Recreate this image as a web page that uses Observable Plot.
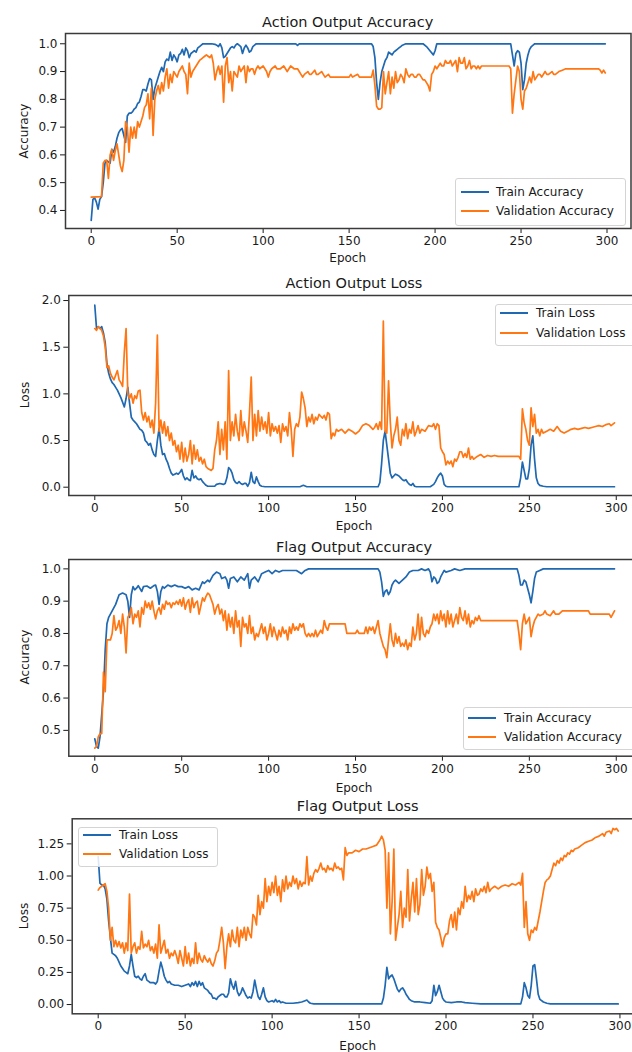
<!DOCTYPE html>
<html><head><meta charset="utf-8">
<script src="https://cdn.jsdelivr.net/npm/d3@7"></script>
<script src="https://cdn.jsdelivr.net/npm/@observablehq/plot@0.6"></script>
<style>
body{margin:0;background:#fff;}
#root{position:relative;width:632px;height:1052px;overflow:hidden;background:#fff;font-family:"DejaVu Sans",sans-serif;color:#1a1a1a;}
.t{position:absolute;white-space:nowrap;transform:translate(-50%,-50%);line-height:1;}
.title{font-size:14.5px;}
.lab{font-size:12px;}
.ylab{transform:translate(-50%,-50%) rotate(-90deg);}
.leg{position:absolute;border:1px solid #d4d4d4;border-radius:3px;background:rgba(255,255,255,0.85);box-sizing:border-box;}
.sw{position:absolute;height:2px;}
.lt{position:absolute;font-size:12px;white-space:nowrap;transform:translateY(-50%);line-height:1;}
</style></head>
<body><div id="root"></div>
<script>
const BLUE = "#1f68b2";
const ORANGE = "#ff7612";
const xTicks = [0, 50, 100, 150, 200, 250, 300];
const accTicks1 = [0.4, 0.5, 0.6, 0.7, 0.8, 0.9, 1.0];
const lossTicks1 = [0, 0.5, 1.0, 1.5, 2.0];
const accTicks2 = [0.5, 0.6, 0.7, 0.8, 0.9, 1.0];
const lossTicks2 = [0, 0.25, 0.5, 0.75, 1.0, 1.25];

// [epoch, value]
const actionTrainAcc = [[0,0.364],[1,0.44],[2,0.445],[3,0.43],[4,0.405],[5,0.44],[6,0.45],[7,0.50],[8,0.57],[9,0.58],[10,0.575],[11,0.57],[12,0.62],[13,0.61],[14,0.63],[15,0.66],[16,0.68],[17,0.69],[18,0.695],[19,0.67],[20,0.645],[21,0.74],[22,0.75],[23,0.75],[24,0.755],[25,0.765],[26,0.77],[27,0.785],[28,0.79],[29,0.81],[30,0.835],[31,0.835],[32,0.83],[33,0.855],[34,0.875],[35,0.87],[36,0.80],[37,0.84],[38,0.86],[39,0.88],[40,0.90],[41,0.915],[42,0.90],[43,0.935],[44,0.945],[45,0.94],[46,0.97],[47,0.94],[48,0.96],[49,0.95],[50,0.935],[51,0.96],[52,0.965],[53,0.98],[54,0.96],[55,0.985],[56,0.975],[57,0.95],[58,0.965],[59,0.97],[60,0.975],[61,0.97],[62,0.985],[63,0.99],[64,0.995],[65,1.0],[70,1.0],[72,0.998],[73,0.995],[74,0.99],[75,1.0],[76,0.985],[77,0.95],[78,0.955],[79,0.965],[80,0.975],[81,0.985],[82,0.99],[83,0.985],[84,0.995],[85,1.0],[86,0.995],[87,0.99],[88,0.965],[89,0.985],[90,0.995],[91,0.985],[92,0.97],[93,0.975],[94,0.99],[95,0.995],[96,1.0],[119,1.0],[120,0.994],[121,1.0],[163,1.0],[164,0.99],[165,0.95],[166,0.86],[167,0.80],[168,0.86],[169,0.90],[170,0.92],[171,0.94],[172,0.95],[173,0.97],[174,0.965],[175,0.96],[176,0.97],[177,0.975],[178,0.98],[179,0.985],[180,0.99],[181,0.995],[183,1.0],[193,1.0],[195,0.99],[197,0.975],[199,0.96],[200,0.975],[201,1.0],[244,1.0],[245,0.96],[246,0.92],[247,0.965],[248,0.975],[249,0.97],[250,0.93],[251,0.835],[252,0.87],[253,0.93],[254,0.96],[255,0.98],[256,0.99],[257,0.995],[258,1.0],[299,1.0]];

const actionValAcc = [[0,0.448],[6,0.45],[7,0.57],[8,0.58],[9,0.58],[10,0.515],[11,0.60],[12,0.62],[13,0.58],[14,0.615],[15,0.64],[16,0.60],[17,0.56],[18,0.54],[19,0.58],[20,0.72],[21,0.70],[22,0.61],[23,0.70],[24,0.66],[25,0.70],[26,0.66],[27,0.72],[28,0.70],[29,0.72],[30,0.74],[31,0.77],[32,0.78],[33,0.82],[34,0.73],[35,0.84],[36,0.67],[37,0.80],[38,0.83],[39,0.85],[40,0.82],[41,0.86],[42,0.83],[43,0.88],[44,0.91],[45,0.84],[46,0.89],[47,0.86],[48,0.90],[49,0.89],[50,0.88],[51,0.90],[52,0.91],[53,0.92],[54,0.90],[55,0.89],[56,0.82],[57,0.93],[58,0.88],[59,0.90],[60,0.91],[61,0.92],[62,0.93],[63,0.94],[64,0.945],[65,0.95],[66,0.955],[67,0.96],[68,0.955],[69,0.95],[70,0.96],[71,0.93],[72,0.87],[73,0.90],[74,0.92],[75,0.89],[76,0.92],[77,0.79],[78,0.92],[79,0.95],[80,0.86],[81,0.90],[82,0.83],[83,0.90],[84,0.89],[85,0.88],[86,0.92],[87,0.90],[88,0.91],[89,0.92],[90,0.86],[91,0.92],[92,0.90],[93,0.91],[94,0.91],[95,0.89],[96,0.91],[97,0.92],[98,0.91],[100,0.92],[101,0.91],[102,0.90],[103,0.88],[104,0.90],[105,0.91],[107,0.92],[108,0.91],[110,0.91],[112,0.92],[113,0.91],[114,0.90],[116,0.92],[118,0.91],[120,0.91],[121,0.90],[122,0.89],[123,0.88],[124,0.89],[126,0.90],[127,0.89],[128,0.89],[130,0.905],[131,0.89],[132,0.89],[134,0.90],[135,0.89],[136,0.88],[138,0.89],[139,0.88],[150,0.88],[151,0.89],[152,0.88],[155,0.89],[156,0.88],[163,0.88],[164,0.905],[165,0.85],[166,0.775],[167,0.765],[168,0.765],[169,0.77],[170,0.90],[171,0.82],[172,0.86],[173,0.90],[174,0.82],[175,0.88],[176,0.84],[177,0.90],[178,0.86],[179,0.87],[180,0.89],[181,0.88],[182,0.86],[183,0.91],[184,0.89],[185,0.88],[186,0.89],[187,0.89],[188,0.88],[189,0.88],[190,0.89],[191,0.89],[192,0.88],[193,0.87],[194,0.87],[195,0.86],[196,0.85],[197,0.83],[198,0.89],[199,0.90],[200,0.92],[201,0.91],[202,0.92],[203,0.93],[204,0.92],[205,0.92],[206,0.94],[207,0.93],[208,0.93],[209,0.94],[210,0.92],[211,0.93],[212,0.94],[213,0.90],[214,0.95],[215,0.93],[216,0.93],[217,0.95],[218,0.91],[219,0.92],[220,0.94],[221,0.91],[222,0.92],[223,0.92],[224,0.91],[225,0.92],[226,0.91],[227,0.92],[243,0.92],[244,0.91],[245,0.75],[246,0.82],[247,0.87],[248,0.92],[249,0.90],[250,0.80],[251,0.765],[252,0.83],[253,0.84],[254,0.86],[255,0.88],[256,0.86],[257,0.90],[258,0.87],[259,0.88],[260,0.89],[261,0.89],[262,0.88],[264,0.90],[265,0.89],[266,0.89],[268,0.90],[269,0.89],[270,0.89],[272,0.90],[274,0.905],[276,0.91],[295,0.91],[296,0.905],[297,0.895],[298,0.905],[299,0.895]];

const actionTrainLoss = [[0,1.95],[1,1.70],[2,1.72],[3,1.70],[4,1.72],[5,1.65],[6,1.55],[7,1.32],[8,1.22],[9,1.16],[10,1.12],[11,1.10],[12,1.07],[13,1.04],[14,1.0],[15,0.96],[16,0.91],[17,0.86],[18,0.95],[19,1.07],[20,0.90],[21,0.75],[22,0.72],[23,0.70],[24,0.68],[25,0.65],[26,0.62],[27,0.61],[28,0.58],[29,0.50],[30,0.48],[31,0.45],[32,0.47],[33,0.40],[34,0.35],[35,0.33],[36,0.50],[37,0.63],[38,0.45],[39,0.35],[40,0.36],[41,0.30],[42,0.26],[43,0.20],[44,0.15],[45,0.13],[46,0.14],[47,0.15],[48,0.14],[49,0.16],[50,0.19],[51,0.12],[52,0.08],[53,0.10],[54,0.08],[55,0.07],[56,0.18],[57,0.10],[58,0.12],[59,0.09],[60,0.08],[61,0.09],[62,0.06],[63,0.04],[64,0.02],[65,0.01],[69,0.01],[70,0.03],[72,0.04],[74,0.03],[75,0.04],[76,0.10],[77,0.21],[78,0.19],[79,0.15],[80,0.08],[81,0.05],[82,0.04],[83,0.06],[84,0.04],[85,0.03],[86,0.04],[87,0.04],[88,0.01],[89,0.05],[90,0.16],[91,0.06],[92,0.04],[93,0.11],[94,0.06],[95,0.02],[96,0.01],[98,0.005],[118,0.005],[120,0.02],[122,0.005],[163,0.005],[164,0.05],[165,0.25],[166,0.50],[167,0.60],[168,0.45],[169,0.30],[170,0.15],[171,0.10],[172,0.12],[173,0.14],[174,0.13],[175,0.12],[176,0.10],[177,0.08],[178,0.07],[179,0.08],[180,0.05],[181,0.03],[182,0.02],[183,0.04],[184,0.01],[185,0.005],[193,0.005],[195,0.03],[196,0.06],[197,0.10],[198,0.13],[199,0.15],[200,0.12],[201,0.03],[202,0.01],[203,0.005],[244,0.005],[245,0.10],[246,0.27],[247,0.18],[248,0.09],[249,0.09],[250,0.20],[251,0.45],[252,0.55],[253,0.30],[254,0.10],[255,0.04],[256,0.02],[258,0.01],[260,0.005],[299,0.005]];

const actionValLoss = [[0,1.70],[1,1.68],[2,1.72],[3,1.70],[4,1.68],[5,1.62],[6,1.50],[7,1.28],[8,1.30],[9,1.22],[10,1.18],[11,1.15],[12,1.20],[13,1.25],[14,1.15],[15,1.12],[16,1.08],[17,1.45],[18,1.70],[19,1.0],[20,0.95],[21,1.0],[22,0.90],[23,0.98],[24,0.95],[25,1.03],[26,1.04],[27,0.80],[28,0.72],[29,0.80],[30,0.70],[31,0.76],[32,0.64],[33,0.72],[34,0.58],[35,0.90],[36,1.63],[37,0.60],[38,0.72],[39,0.58],[40,0.70],[41,0.55],[42,0.65],[43,0.50],[44,0.58],[45,0.45],[46,0.50],[47,0.38],[48,0.45],[49,0.30],[50,0.48],[51,0.27],[52,0.42],[53,0.28],[54,0.35],[55,0.50],[56,0.25],[57,0.45],[58,0.30],[59,0.40],[60,0.28],[61,0.32],[62,0.25],[63,0.30],[64,0.22],[65,0.20],[66,0.19],[67,0.18],[68,0.20],[69,0.40],[70,0.50],[71,0.70],[72,0.35],[73,0.62],[74,0.40],[75,0.70],[76,0.30],[77,1.25],[78,0.50],[79,0.70],[80,0.55],[81,0.78],[82,0.60],[83,0.50],[84,0.82],[85,0.55],[86,0.70],[87,0.60],[88,0.48],[89,0.80],[90,1.18],[91,0.50],[92,0.78],[93,0.55],[94,0.82],[95,0.60],[96,0.75],[97,0.62],[98,0.70],[99,0.58],[100,0.80],[101,0.55],[102,0.68],[103,0.60],[104,0.65],[105,0.58],[106,0.66],[107,0.48],[108,0.68],[109,0.60],[110,0.65],[111,0.55],[112,0.80],[113,0.62],[114,0.33],[115,0.62],[116,0.68],[117,0.65],[118,0.75],[119,1.02],[120,0.95],[121,0.85],[122,0.65],[123,0.75],[124,0.70],[125,0.78],[126,0.68],[127,0.75],[128,0.72],[129,0.78],[130,0.76],[131,0.74],[132,0.77],[133,0.72],[134,0.80],[135,0.78],[136,0.52],[137,0.58],[138,0.55],[139,0.62],[140,0.60],[142,0.62],[144,0.58],[146,0.62],[148,0.60],[150,0.57],[152,0.60],[154,0.66],[156,0.68],[158,0.66],[160,0.62],[161,0.64],[162,0.68],[163,0.62],[164,0.70],[165,0.62],[166,1.78],[167,0.60],[168,0.58],[169,1.14],[170,0.70],[171,0.42],[172,0.55],[173,0.62],[174,0.75],[175,0.50],[176,0.45],[177,0.62],[178,0.55],[179,0.68],[180,0.52],[181,0.62],[182,0.58],[183,0.70],[184,0.55],[185,0.60],[186,0.66],[187,0.58],[188,0.62],[190,0.60],[192,0.66],[194,0.65],[195,0.68],[196,0.62],[197,0.68],[198,0.66],[199,0.42],[200,0.38],[201,0.35],[202,0.24],[203,0.28],[204,0.25],[205,0.28],[206,0.22],[207,0.30],[208,0.28],[209,0.32],[210,0.38],[211,0.38],[212,0.32],[213,0.36],[214,0.32],[215,0.42],[216,0.30],[217,0.33],[218,0.30],[220,0.33],[222,0.35],[224,0.32],[226,0.34],[228,0.33],[230,0.34],[232,0.33],[244,0.33],[245,0.30],[246,0.84],[247,0.70],[248,0.62],[249,0.50],[250,0.45],[251,0.85],[252,0.65],[253,0.78],[254,0.58],[255,0.62],[256,0.55],[257,0.62],[258,0.58],[260,0.60],[262,0.62],[264,0.60],[266,0.65],[268,0.60],[270,0.58],[272,0.60],[274,0.62],[276,0.63],[278,0.62],[280,0.63],[282,0.64],[284,0.63],[286,0.64],[288,0.65],[290,0.66],[292,0.65],[294,0.67],[296,0.68],[297,0.66],[299,0.69]];

const flagTrainAcc = [[0,0.474],[1,0.45],[2,0.445],[3,0.48],[4,0.55],[5,0.62],[6,0.75],[7,0.83],[8,0.85],[9,0.86],[10,0.87],[12,0.89],[14,0.92],[16,0.925],[18,0.92],[19,0.90],[20,0.85],[21,0.92],[22,0.945],[23,0.935],[24,0.94],[25,0.948],[27,0.93],[28,0.945],[30,0.947],[32,0.94],[34,0.948],[35,0.95],[36,0.93],[37,0.89],[38,0.93],[39,0.945],[40,0.94],[42,0.95],[44,0.945],[46,0.95],[48,0.945],[50,0.945],[52,0.94],[54,0.945],[56,0.935],[58,0.94],[60,0.935],[62,0.96],[63,0.955],[65,0.965],[66,0.96],[68,0.98],[70,0.99],[72,0.985],[73,0.97],[75,0.975],[76,0.965],[77,0.94],[78,0.97],[80,0.975],[82,0.96],[84,0.975],[86,0.965],[88,0.985],[89,0.94],[90,0.965],[92,0.975],[94,0.96],[96,0.985],[98,0.99],[100,0.995],[102,0.985],[104,0.995],[106,0.99],[108,0.995],[116,0.995],[119,0.985],[121,0.995],[123,1.0],[163,1.0],[164,0.99],[165,0.96],[166,0.915],[167,0.93],[168,0.935],[169,0.92],[170,0.93],[171,0.95],[172,0.96],[173,0.965],[175,0.955],[177,0.965],[179,0.975],[181,0.99],[183,0.995],[186,0.995],[188,1.0],[190,0.995],[192,1.0],[193,0.99],[194,0.96],[195,0.975],[196,0.97],[197,0.955],[198,0.96],[199,0.975],[200,0.985],[201,0.995],[202,0.99],[205,0.995],[207,1.0],[210,0.995],[213,1.0],[243,1.0],[244,0.98],[245,0.95],[246,0.95],[247,0.965],[248,0.96],[249,0.94],[250,0.92],[251,0.895],[252,0.93],[253,0.97],[254,0.99],[256,0.995],[258,1.0],[299,1.0]];

const flagValAcc = [[0,0.445],[1,0.45],[2,0.48],[3,0.49],[4,0.49],[5,0.68],[6,0.62],[7,0.78],[8,0.78],[9,0.78],[10,0.80],[11,0.855],[12,0.81],[13,0.82],[14,0.84],[15,0.80],[16,0.86],[17,0.82],[18,0.74],[19,0.85],[20,0.86],[21,0.88],[22,0.83],[23,0.86],[24,0.85],[25,0.87],[26,0.82],[27,0.88],[28,0.86],[29,0.90],[30,0.88],[31,0.895],[32,0.875],[33,0.90],[34,0.87],[35,0.845],[36,0.87],[37,0.88],[38,0.86],[39,0.89],[40,0.875],[41,0.90],[42,0.89],[43,0.895],[44,0.88],[45,0.895],[46,0.89],[47,0.90],[48,0.89],[49,0.905],[50,0.885],[51,0.91],[52,0.875],[53,0.895],[54,0.905],[55,0.865],[56,0.91],[57,0.88],[58,0.895],[59,0.90],[60,0.86],[61,0.885],[62,0.91],[63,0.90],[64,0.915],[65,0.925],[66,0.92],[67,0.905],[68,0.89],[69,0.86],[70,0.88],[71,0.89],[72,0.86],[73,0.875],[74,0.84],[75,0.87],[76,0.81],[77,0.86],[78,0.82],[79,0.85],[80,0.80],[81,0.87],[82,0.82],[83,0.84],[84,0.76],[85,0.85],[86,0.82],[87,0.83],[88,0.80],[89,0.855],[90,0.80],[91,0.82],[92,0.78],[93,0.80],[94,0.79],[95,0.81],[96,0.83],[97,0.80],[98,0.82],[99,0.78],[100,0.80],[101,0.83],[102,0.79],[103,0.82],[104,0.80],[105,0.78],[106,0.81],[107,0.79],[108,0.82],[109,0.80],[110,0.81],[111,0.78],[112,0.82],[113,0.80],[114,0.83],[115,0.81],[116,0.82],[117,0.81],[118,0.83],[119,0.82],[120,0.83],[121,0.80],[122,0.79],[123,0.80],[124,0.79],[125,0.80],[126,0.79],[127,0.81],[128,0.79],[129,0.80],[130,0.81],[131,0.80],[132,0.84],[133,0.82],[134,0.81],[135,0.83],[144,0.83],[145,0.80],[150,0.80],[151,0.81],[152,0.80],[155,0.80],[156,0.82],[157,0.80],[158,0.82],[159,0.81],[160,0.82],[161,0.80],[162,0.82],[163,0.84],[164,0.80],[165,0.78],[166,0.76],[167,0.75],[168,0.725],[169,0.78],[170,0.83],[171,0.78],[172,0.76],[173,0.80],[174,0.77],[175,0.79],[176,0.76],[177,0.77],[178,0.76],[179,0.78],[180,0.75],[181,0.77],[182,0.76],[183,0.82],[184,0.78],[185,0.80],[186,0.86],[187,0.78],[188,0.85],[189,0.80],[190,0.79],[191,0.81],[192,0.80],[193,0.82],[194,0.83],[195,0.86],[196,0.84],[197,0.86],[198,0.83],[199,0.87],[200,0.84],[201,0.86],[202,0.82],[203,0.87],[204,0.83],[205,0.86],[206,0.82],[207,0.84],[208,0.86],[209,0.83],[210,0.88],[211,0.85],[212,0.84],[213,0.87],[214,0.83],[215,0.86],[216,0.82],[217,0.84],[218,0.83],[219,0.85],[220,0.84],[221,0.855],[222,0.84],[243,0.84],[244,0.80],[245,0.75],[246,0.83],[247,0.86],[248,0.83],[249,0.84],[250,0.85],[251,0.79],[252,0.82],[253,0.84],[254,0.85],[255,0.86],[256,0.855],[258,0.86],[259,0.87],[260,0.86],[262,0.855],[264,0.87],[265,0.86],[267,0.86],[269,0.87],[284,0.87],[285,0.86],[296,0.86],[297,0.85],[298,0.86],[299,0.87]];

const flagTrainLoss = [[0,1.15],[1,0.945],[2,0.93],[3,0.93],[4,0.90],[5,0.82],[6,0.65],[7,0.52],[8,0.40],[9,0.39],[10,0.38],[11,0.36],[12,0.33],[13,0.30],[14,0.28],[15,0.26],[16,0.25],[17,0.24],[18,0.30],[19,0.39],[20,0.30],[21,0.22],[22,0.21],[23,0.22],[24,0.20],[25,0.19],[26,0.22],[27,0.24],[28,0.19],[29,0.18],[30,0.17],[32,0.17],[33,0.16],[34,0.18],[35,0.26],[36,0.33],[37,0.28],[38,0.22],[39,0.19],[40,0.17],[41,0.18],[42,0.16],[44,0.15],[46,0.15],[48,0.14],[50,0.15],[52,0.16],[53,0.14],[54,0.17],[55,0.15],[56,0.18],[57,0.14],[58,0.18],[59,0.15],[60,0.17],[61,0.13],[62,0.12],[63,0.11],[64,0.09],[65,0.08],[66,0.05],[67,0.05],[68,0.04],[69,0.06],[70,0.07],[71,0.08],[72,0.08],[73,0.06],[74,0.06],[75,0.09],[76,0.20],[77,0.15],[78,0.12],[79,0.18],[80,0.10],[81,0.07],[82,0.09],[83,0.13],[84,0.10],[85,0.07],[86,0.05],[87,0.06],[88,0.05],[89,0.10],[90,0.19],[91,0.12],[92,0.06],[93,0.04],[94,0.08],[95,0.13],[96,0.06],[97,0.03],[98,0.02],[100,0.03],[101,0.02],[102,0.04],[103,0.02],[104,0.03],[105,0.015],[106,0.02],[108,0.01],[112,0.01],[115,0.015],[117,0.02],[119,0.03],[120,0.035],[121,0.02],[122,0.01],[124,0.005],[163,0.005],[164,0.05],[165,0.15],[166,0.29],[167,0.20],[168,0.22],[169,0.23],[170,0.20],[171,0.16],[172,0.12],[173,0.10],[174,0.12],[175,0.13],[176,0.11],[177,0.08],[178,0.06],[179,0.04],[180,0.03],[182,0.02],[185,0.02],[188,0.015],[191,0.01],[192,0.03],[193,0.15],[194,0.07],[195,0.10],[196,0.15],[197,0.10],[198,0.05],[199,0.03],[200,0.02],[203,0.015],[206,0.02],[209,0.02],[211,0.015],[215,0.01],[220,0.005],[243,0.005],[244,0.06],[245,0.17],[246,0.13],[247,0.07],[248,0.05],[249,0.15],[250,0.30],[251,0.31],[252,0.20],[253,0.08],[254,0.04],[256,0.02],[258,0.01],[260,0.005],[299,0.005]];

const flagValLoss = [[0,0.89],[1,0.91],[2,0.92],[3,0.93],[4,0.94],[5,0.88],[6,0.75],[7,0.50],[8,0.60],[9,0.45],[10,0.50],[11,0.45],[12,0.49],[13,0.44],[14,0.48],[15,0.40],[16,0.48],[17,0.42],[18,0.86],[19,0.40],[20,0.45],[21,0.48],[22,0.40],[23,0.45],[24,0.43],[25,0.57],[26,0.44],[27,0.47],[28,0.45],[29,0.50],[30,0.42],[31,0.45],[32,0.40],[33,0.47],[34,0.36],[35,0.62],[36,0.40],[37,0.45],[38,0.50],[39,0.40],[40,0.43],[41,0.36],[42,0.40],[43,0.38],[44,0.42],[45,0.38],[46,0.32],[47,0.42],[48,0.36],[49,0.30],[50,0.45],[51,0.32],[52,0.40],[53,0.30],[54,0.36],[55,0.32],[56,0.48],[57,0.32],[58,0.40],[59,0.35],[60,0.33],[61,0.38],[62,0.35],[63,0.33],[64,0.36],[65,0.32],[66,0.30],[67,0.34],[68,0.40],[69,0.42],[70,0.50],[71,0.60],[72,0.48],[73,0.28],[74,0.45],[75,0.55],[76,0.45],[77,0.58],[78,0.50],[79,0.48],[80,0.60],[81,0.45],[82,0.58],[83,0.52],[84,0.60],[85,0.50],[86,0.60],[87,0.55],[88,0.52],[89,0.70],[90,0.68],[91,0.62],[92,0.85],[93,0.70],[94,0.80],[95,0.75],[96,0.98],[97,0.80],[98,0.92],[99,0.85],[100,0.95],[101,0.87],[102,1.0],[103,0.85],[104,0.92],[105,0.80],[106,0.97],[107,0.88],[108,1.0],[109,0.90],[110,0.95],[111,0.92],[112,1.0],[113,0.94],[114,0.98],[115,0.90],[116,0.96],[117,0.92],[118,0.95],[119,0.94],[120,1.15],[121,0.93],[122,1.0],[123,0.96],[124,1.02],[125,1.05],[126,1.03],[127,1.06],[128,1.10],[129,1.05],[130,1.06],[131,1.03],[132,1.08],[133,1.05],[134,1.06],[135,1.04],[136,1.10],[137,1.06],[138,1.07],[139,1.05],[140,1.06],[141,0.97],[142,1.22],[143,1.16],[144,1.18],[146,1.18],[148,1.20],[150,1.19],[152,1.21],[154,1.21],[156,1.22],[158,1.23],[160,1.24],[162,1.28],[163,1.31],[164,1.28],[165,1.20],[166,0.75],[167,1.18],[168,0.55],[169,0.80],[170,1.21],[171,0.50],[172,0.60],[173,0.70],[174,0.88],[175,0.60],[176,0.75],[177,0.68],[178,1.05],[179,0.65],[180,0.82],[181,0.95],[182,0.72],[183,0.98],[184,0.70],[185,0.78],[186,1.05],[187,0.85],[188,0.92],[189,1.07],[190,0.98],[191,1.02],[192,0.88],[193,0.95],[194,0.64],[195,0.60],[196,0.58],[197,0.52],[198,0.45],[199,0.52],[200,0.55],[201,0.55],[202,0.65],[203,0.70],[204,0.60],[205,0.72],[206,0.58],[207,0.75],[208,0.70],[209,0.80],[210,0.75],[211,0.92],[212,0.80],[213,0.85],[214,0.82],[215,0.88],[216,0.80],[217,0.90],[218,0.85],[219,0.86],[220,0.90],[221,0.88],[222,0.92],[223,0.87],[224,0.95],[225,0.88],[226,0.90],[228,0.92],[230,0.90],[232,0.92],[234,0.93],[236,0.92],[238,0.94],[240,0.93],[242,0.95],[243,0.93],[244,1.02],[245,0.60],[246,0.80],[247,0.55],[248,0.50],[249,0.58],[250,0.56],[251,0.60],[252,0.58],[253,0.65],[254,0.72],[255,0.80],[256,0.88],[257,0.95],[258,0.97],[259,0.98],[260,1.0],[261,1.05],[262,1.10],[263,1.08],[264,1.12],[265,1.10],[266,1.14],[267,1.12],[268,1.16],[269,1.15],[270,1.18],[271,1.17],[272,1.20],[273,1.19],[274,1.21],[276,1.22],[278,1.24],[280,1.26],[282,1.27],[284,1.28],[286,1.30],[288,1.31],[290,1.33],[291,1.31],[292,1.34],[294,1.35],[295,1.33],[296,1.37],[297,1.36],[298,1.37],[299,1.35]];

const root = document.getElementById("root");

function panel(o) {
  const svg = Plot.plot({
    width: o.width, height: o.height,
    marginLeft: o.ml, marginRight: o.mr, marginTop: o.mt, marginBottom: o.mb,
    style: {fontFamily: "DejaVu Sans, sans-serif", fontSize: "12px", color: "#1a1a1a", background: "transparent", maxWidth: "none", overflow: "visible"},
    x: {domain: [-14.95, 313.95]},
    y: {domain: o.ydomain},
    marks: [
      Plot.axisX({ticks: xTicks, tickSize: 5, tickPadding: 3, label: null, tickFormat: d3.format("d")}),
      Plot.axisY({ticks: o.yticks, tickSize: 5, tickPadding: 3, label: null, tickFormat: d3.format(o.yfmt)}),
      Plot.line(o.train, {x: d => d[0], y: d => d[1], stroke: BLUE, strokeWidth: 1.7}),
      Plot.line(o.val, {x: d => d[0], y: d => d[1], stroke: ORANGE, strokeWidth: 1.7}),
      Plot.frame({stroke: "#3a3a3a", strokeWidth: 1.5})
    ]
  });
  svg.style.position = "absolute";
  svg.style.left = "0px";
  svg.style.top = o.top + "px";
  root.appendChild(svg);
}

function text(str, x, y, cls) {
  const d = document.createElement("div");
  d.className = "t " + cls;
  d.textContent = str;
  d.style.left = x + "px";
  d.style.top = y + "px";
  root.appendChild(d);
}

function legend(box, swX, txX, rows) {
  const b = document.createElement("div");
  b.className = "leg";
  b.style.left = box[0] + "px"; b.style.top = box[1] + "px";
  b.style.width = (box[2] - box[0]) + "px"; b.style.height = (box[3] - box[1]) + "px";
  root.appendChild(b);
  rows.forEach(([label, color, y]) => {
    const s = document.createElement("div");
    s.className = "sw";
    s.style.left = swX + "px"; s.style.top = (y - 1) + "px"; s.style.width = "28px"; s.style.background = color;
    root.appendChild(s);
    const t = document.createElement("div");
    t.className = "lt";
    t.textContent = label;
    t.style.left = txX + "px"; t.style.top = y + "px";
    root.appendChild(t);
  });
}

panel({top: 0, height: 262, width: 632, ml: 65, mr: 1.5, mt: 33, mb: 34, ydomain: [0.335, 1.037], yticks: accTicks1, yfmt: ".1f", train: actionTrainAcc, val: actionValAcc});
panel({top: 262, height: 270, width: 645, ml: 68.3, mr: 5, mt: 33, mb: 37, ydomain: [-0.089, 2.054], yticks: lossTicks1, yfmt: ".1f", train: actionTrainLoss, val: actionValLoss});
panel({top: 532, height: 265, width: 645, ml: 68.3, mr: 5, mt: 27, mb: 41.3, ydomain: [0.42, 1.029], yticks: accTicks2, yfmt: ".1f", train: flagTrainAcc, val: flagValAcc});
panel({top: 797, height: 255, width: 648, ml: 71.7, mr: 4.3, mt: 21.3, mb: 38.7, ydomain: [-0.072, 1.445], yticks: lossTicks2, yfmt: ".2f", train: flagTrainLoss, val: flagValLoss});

text("Action Output Accuracy", 347.7, 21.5, "title");
text("Epoch", 347.7, 258, "lab");
text("Accuracy", 23.5, 130.5, "lab ylab");
text("Action Output Loss", 354, 283, "title");
text("Epoch", 354, 526, "lab");
text("Loss", 25, 395, "lab ylab");
text("Flag Output Accuracy", 354, 547, "title");
text("Epoch", 354, 788, "lab");
text("Accuracy", 25, 657, "lab ylab");
text("Flag Output Loss", 357.7, 806, "title");
text("Epoch", 357.7, 1046, "lab");
text("Loss", 23.5, 916, "lab ylab");

legend([455, 178, 626, 226], 461, 496, [["Train Accuracy", BLUE, 191.7], ["Validation Accuracy", ORANGE, 210.5]]);
legend([495, 304, 645, 346], 500, 536, [["Train Loss", BLUE, 313], ["Validation Loss", ORANGE, 332.5]]);
legend([463, 707, 645, 750], 468, 504, [["Train Accuracy", BLUE, 718], ["Validation Accuracy", ORANGE, 737]]);
legend([78.3, 826.5, 217.7, 866.7], 82.7, 119, [["Train Loss", BLUE, 834.5], ["Validation Loss", ORANGE, 853.5]]);
</script>
</body></html>
